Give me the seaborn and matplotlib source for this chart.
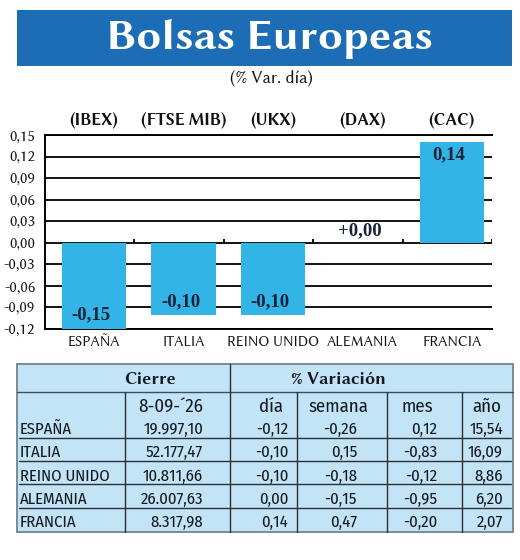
import matplotlib
matplotlib.use("Agg")
import matplotlib.pyplot as plt
from matplotlib.patches import Rectangle
from matplotlib.ticker import FuncFormatter, MultipleLocator
import numpy as np
import pandas as pd
import seaborn as sns

# ---------------- data ----------------
categories = ["ESPAÑA", "ITALIA", "REINO UNIDO", "ALEMANIA", "FRANCIA"]
index_names = ["(IBEX)", "(FTSE MIB)", "(UKX)", "(DAX)", "(CAC)"]
day_change = [-0.15, -0.10, -0.10, 0.00, 0.14]

table_date = "8-09-´26"
cierre = [19997.10, 52177.47, 10811.66, 26007.63, 8317.98]
var_dia = [-0.12, -0.10, -0.10, 0.00, 0.14]
var_semana = [-0.26, 0.15, -0.18, -0.15, 0.47]
var_mes = [0.12, -0.83, -0.12, -0.95, -0.20]
var_anio = [15.54, 16.09, 8.86, 6.20, 2.07]

title = "Bolsas Europeas"
subtitle = "(% Var. día)"

# ---------------- style ----------------
BANNER = "#1c6db5"
BAR = "#33b4e6"
TABLE_BG = "#c2e4f6"
LABEL_DARK = "#16233a"
SANS = ["Libertinus Sans", "Fira Sans", "DejaVu Sans"]
COND = ["Fira Sans Condensed", "DejaVu Sans"]
SERIF = ["Liberation Serif", "DejaVu Serif"]

sns.set_theme(style="white")
plt.rcParams["font.family"] = SANS


def es(v, nd=2):
    s = f"{v:,.{nd}f}"
    return s.replace(",", "X").replace(".", ",").replace("X", ".")


W, H = 520, 560
fig = plt.figure(figsize=(W / 100, H / 100), dpi=100)

# background axes in pixel coordinates (banner + table)
bg = fig.add_axes([0, 0, 1, 1], zorder=0)
bg.set_xlim(0, W)
bg.set_ylim(H, 0)
bg.axis("off")

bg.add_patch(Rectangle((17, 10), 495, 56, color=BANNER, lw=0))
bg.text(270, 39, title, color="white", fontsize=32, fontweight="bold",
        ha="center", va="center", family=SANS)
bg.text(271, 78, subtitle, color="#111111", fontsize=12.5, ha="center",
        va="center", family=SANS)

# ---------------- bar chart ----------------
ax = fig.add_axes([45 / W, 1 - 329 / H, 447 / W, 194 / H], zorder=2)
df = pd.DataFrame({"pais": categories, "var": day_change})
sns.barplot(data=df, x="pais", y="var", order=categories, color=BAR,
            saturation=1, width=0.72, ax=ax, zorder=3, linewidth=0,
            edgecolor=BAR)
n = len(categories)
ax.set_xlim(-0.55, n - 0.55)
ax.set_ylim(-0.12, 0.15)
ax.yaxis.set_major_locator(MultipleLocator(0.03))
ax.yaxis.set_major_formatter(FuncFormatter(lambda v, p: es(round(v, 2) + 0.0)))
ax.grid(axis="y", color="black", lw=1.3)
ax.grid(axis="x", visible=False)
ax.set_axisbelow(True)
ax.set_xlabel("")
ax.set_ylabel("")
ax.set_facecolor("white")
for side in ["left", "top", "bottom"]:
    ax.spines[side].set_visible(True)
    ax.spines[side].set_color("black")
    ax.spines[side].set_linewidth(1.4)
ax.spines["right"].set_visible(False)
ax.tick_params(axis="y", length=0, pad=7, labelsize=11.5, labelcolor="#111111")
ax.tick_params(axis="x", length=0, pad=4, labelsize=10.5, labelcolor="#111111")
for t in ax.get_xticklabels() + ax.get_yticklabels():
    t.set_family(SANS)

# small tick marks on the zero line between categories
bounds = np.arange(n) + 0.45
ax.vlines(bounds, 0, 0.005, color="black", lw=1.3, zorder=4)

# index names above the chart
for i, name in enumerate(index_names):
    ax.annotate(name, xy=(i, 1), xycoords=("data", "axes fraction"),
                xytext=(0, 10), textcoords="offset points", ha="center",
                va="center", fontsize=12, fontweight="bold", color="#111111",
                family=SANS)

# value labels
ylo, yhi = ax.get_ylim()
for i, v in enumerate(day_change):
    txt = ("+" + es(v)) if v == 0 else es(v)
    if v < 0:
        anchor, dy = max(v, ylo), 9 if v > ylo else 10
    elif v > 0:
        anchor, dy = min(v, yhi), -9
    else:
        anchor, dy = 0, 9
    ax.annotate(txt, xy=(i, anchor), xytext=(-2, dy), textcoords="offset points",
                ha="center", va="center", fontsize=13.5, fontweight="bold",
                color=LABEL_DARK, family=SERIF, zorder=5)

# ---------------- table ----------------
tx0, tx1, ty0, ty1 = 17, 513, 364, 532
bg.add_patch(Rectangle((tx0, ty0), tx1 - tx0, ty1 - ty0, facecolor=TABLE_BG,
                       edgecolor="#6f8491", lw=1.3))
row_h1 = 392
row_lines = [438, 461, 484, 508]
row_centers = [429, 452, 476, 499, 522]
vcols = [125, 230, 297, 387, 462]

bg.plot([tx0, tx1], [row_h1, row_h1], color="#3d4c57", lw=1.0)
for y in row_lines:
    bg.plot([tx0 + 2, tx1 - 2], [y, y], color="#2b2f36", lw=1.0)
for x in vcols:
    top = ty0 if x == 230 else row_h1
    bg.plot([x, x], [top, ty1], color="#2b2f36", lw=1.0)

tcolor = "#14181f"
bg.text(150, 379, "Cierre", fontsize=13, fontweight="bold", ha="center",
        va="center", color=tcolor, family=SANS)
bg.text(338, 379, "% Variación", fontsize=13, fontweight="bold", ha="center",
        va="center", color=tcolor, family=SANS)
sub_heads = [(171, table_date), (271, "día"), (338, "semana"), (417, "mes"), (487, "año")]
for x, s in sub_heads:
    bg.text(x, 407, s, fontsize=13.5, ha="center", va="center", color=tcolor,
            family=COND)

right_edges = [203, 288, 357, 437, 503]
cols = [[es(v) for v in cierre],
        [es(v) for v in var_dia],
        [es(v) for v in var_semana],
        [es(v) for v in var_mes],
        [es(v) for v in var_anio]]
for r, name in enumerate(categories):
    y = row_centers[r]
    bg.text(20, y, name, fontsize=12, ha="left", va="center", color=tcolor,
            family=COND)
    for c, xr in enumerate(right_edges):
        bg.text(xr, y, cols[c][r], fontsize=12, ha="right", va="center",
                color=tcolor, family=COND)

fig.savefig("out.png", dpi=100, facecolor="white")
